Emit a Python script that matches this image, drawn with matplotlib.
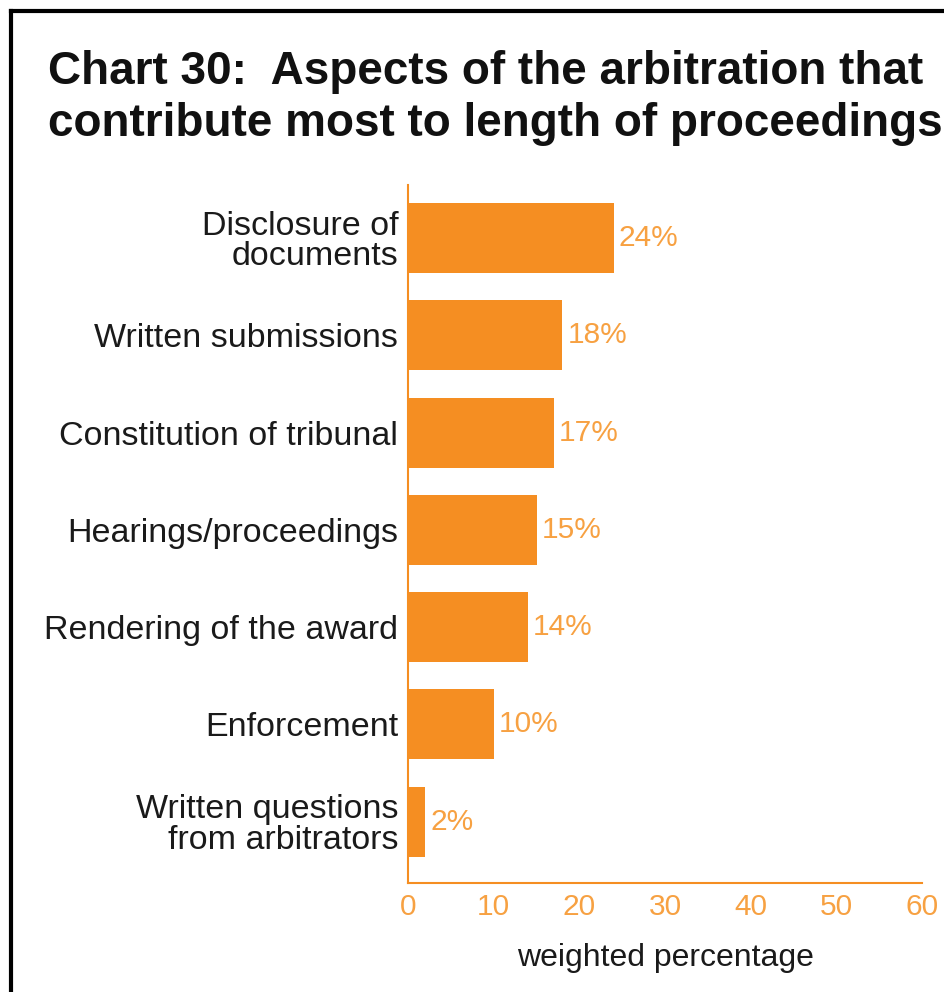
import matplotlib
matplotlib.use("Agg")
import matplotlib.pyplot as plt
from matplotlib.lines import Line2D

categories = ["Disclosure of\ndocuments", "Written submissions", "Constitution of tribunal",
              "Hearings/proceedings", "Rendering of the award", "Enforcement",
              "Written questions\nfrom arbitrators"]
values = [24, 18, 17, 15, 14, 10, 2]
value_labels = ["24%", "18%", "17%", "15%", "14%", "10%", "2%"]
xticks = [0, 10, 20, 30, 40, 50, 60]

BAR = "#F58E22"
LBL = "#F7A142"
FONT = "Liberation Sans"

fig = plt.figure(figsize=(9.45, 9.92), dpi=100)
ax = fig.add_axes([408/945, 1-883/992, 514/945, (883-185)/992])

y = list(range(len(categories)))
ax.barh(y, values, height=0.72, color=BAR, zorder=2)
ax.set_ylim(len(categories) - 1 + 0.63, -0.545)
ax.set_xlim(0, 60)
ax.set_yticks(y)
ax.set_yticklabels(categories, fontsize=24.5, family=FONT, color="#1a1a1a", linespacing=0.98)
for lab in ax.get_yticklabels():
    lab.set_horizontalalignment("right")
ax.set_xticks(xticks)
ax.set_xticklabels([str(t) for t in xticks], fontsize=21.5, family=FONT, color=LBL)
ax.tick_params(axis="both", length=0)
ax.tick_params(axis="y", pad=7)
ax.tick_params(axis="x", pad=7)
for s in ["top", "right"]:
    ax.spines[s].set_visible(False)
for s in ["left", "bottom"]:
    ax.spines[s].set_color(BAR)
    ax.spines[s].set_linewidth(1.5)

for yi, v, t in zip(y, values, value_labels):
    ax.text(v + 0.6, yi, t, va="center", ha="left", fontsize=21.5, family=FONT, color=LBL)

ax.set_xlabel("weighted percentage", fontsize=23, family=FONT, color="#1a1a1a", labelpad=16)

fig.text(48/945, 1-98/992, "Chart 30:  Aspects of the arbitration that\ncontribute most to length of proceedings",
         fontsize=33, fontweight="bold", family=FONT, color="#111111", va="center", ha="left",
         linespacing=1.24)

fig.add_artist(Line2D([11/945, 11/945], [0, 1-11/992], transform=fig.transFigure, color="black", lw=3))
fig.add_artist(Line2D([11/945, 1], [1-11/992, 1-11/992], transform=fig.transFigure, color="black", lw=3))

fig.savefig("out.png", dpi=100)
